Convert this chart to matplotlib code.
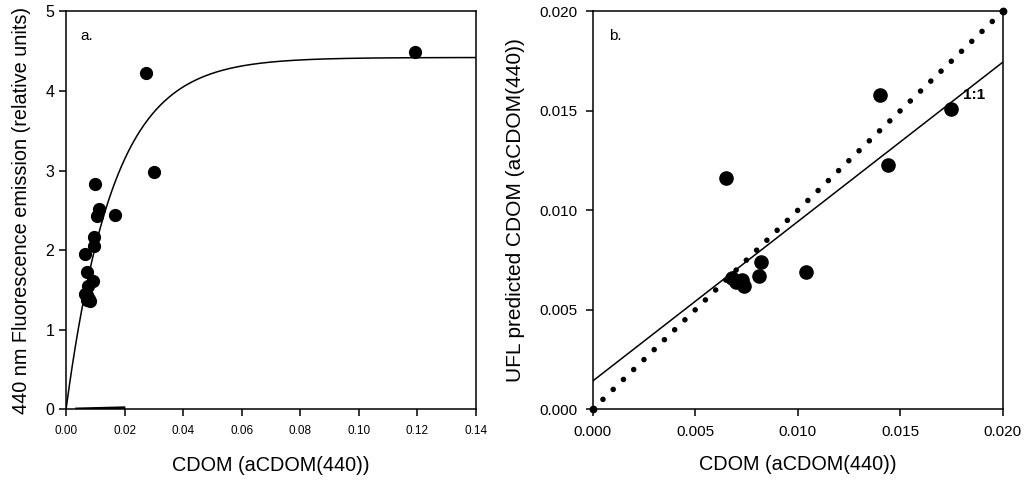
import matplotlib
matplotlib.use('Agg')
import matplotlib.pyplot as plt
import numpy as np
from matplotlib.ticker import FormatStrFormatter

plt.rcParams['font.family'] = ['Liberation Sans', 'DejaVu Sans']

# panel a: CDOM vs 440 nm fluorescence
cdom_a = [0.0273, 0.0301, 0.0100, 0.0114, 0.0107, 0.0169, 0.0097, 0.0097,
          0.0064, 0.0073, 0.0091, 0.0075, 0.0065, 0.0073, 0.0080, 0.0073,
          0.0081, 0.1192]
fluor_a = [4.22, 2.98, 2.83, 2.52, 2.43, 2.44, 2.16, 2.05,
           1.95, 1.73, 1.61, 1.55, 1.45, 1.44, 1.39, 1.37,
           1.36, 4.49]
# fitted curve  y = fit_max * (1 - exp(-fit_rate * x))
fit_max = 4.42
fit_rate = 62.0
# short flat trace along the x axis
flat_x = [0.0036, 0.0198]
flat_y = [0.005, 0.02]

# panel b: measured vs UFL predicted CDOM
cdom_b = [0.0065, 0.0140, 0.0175, 0.0144, 0.0104, 0.0082, 0.0081, 0.0068,
          0.0070, 0.0073, 0.0074]
pred_b = [0.0116, 0.0158, 0.0151, 0.0123, 0.0069, 0.0074, 0.0067, 0.0066,
          0.0064, 0.0065, 0.0062]
one_to_one = [0.0, 0.02]
reg_x = [0.0, 0.02]
reg_y = [0.00142, 0.01744]

fig = plt.figure(figsize=(10.24, 4.84), dpi=100)
ax1 = fig.add_axes([0.0645, 0.1543, 0.400, 0.8223])
ax2 = fig.add_axes([0.5788, 0.1543, 0.4004, 0.8223])

for ax in (ax1, ax2):
    for s in ax.spines.values():
        s.set_linewidth(1.1)
    ax.tick_params(direction='out', length=5, width=1.1, color='black')

# ---- a ----
xc = np.linspace(0, 0.14, 400)
ax1.plot(xc, fit_max * (1 - np.exp(-fit_rate * xc)), color='black', lw=1.1)
ax1.plot(flat_x, flat_y, color='black', lw=2)
ax1.plot(cdom_a, fluor_a, 'o', color='black', markersize=8.5, clip_on=False)
ax1.set_xlim(0, 0.14)
ax1.set_ylim(0, 5)
ax1.set_xticks(np.arange(0, 0.141, 0.02))
ax1.set_yticks(range(6))
ax1.xaxis.set_major_formatter(FormatStrFormatter('%.2f'))
ax1.tick_params(axis='x', labelsize=8.5, pad=6)
ax1.tick_params(axis='y', labelsize=11.5)
ax1.set_xlabel('CDOM (aCDOM(440))', fontsize=14.3, labelpad=14)
ax1.set_ylabel('440 nm Fluorescence emission (relative units)', fontsize=14.3, labelpad=10)
ax1.text(0.035, 0.955, 'a.', transform=ax1.transAxes, fontsize=11, va='top')

# ---- b ----
ax2.plot(one_to_one, one_to_one, color='black', lw=4.0,
         linestyle=(0, (0.01, 2.56)), dash_capstyle='round', clip_on=False)
ax2.plot(one_to_one, one_to_one, 'o', color='black', markersize=4.6, clip_on=False)
ax2.plot(reg_x, reg_y, color='black', lw=1.1)
ax2.plot(cdom_b, pred_b, 'o', color='black', markersize=9.5)
ax2.text(0.01805, 0.0158, '1:1', fontsize=11, fontweight='bold', va='center')
ax2.set_xlim(0, 0.02)
ax2.set_ylim(0, 0.02)
ax2.set_xticks(np.arange(0, 0.0201, 0.005))
ax2.set_yticks(np.arange(0, 0.0201, 0.005))
ax2.xaxis.set_major_formatter(FormatStrFormatter('%.3f'))
ax2.yaxis.set_major_formatter(FormatStrFormatter('%.3f'))
ax2.tick_params(labelsize=11, pad=6)
ax2.set_xlabel('CDOM (aCDOM(440))', fontsize=14.3, labelpad=12)
ax2.set_ylabel('UFL predicted CDOM (aCDOM(440))', fontsize=15, labelpad=10)
ax2.text(0.04, 0.955, 'b.', transform=ax2.transAxes, fontsize=11, va='top')

fig.savefig('out.png', dpi=100)
